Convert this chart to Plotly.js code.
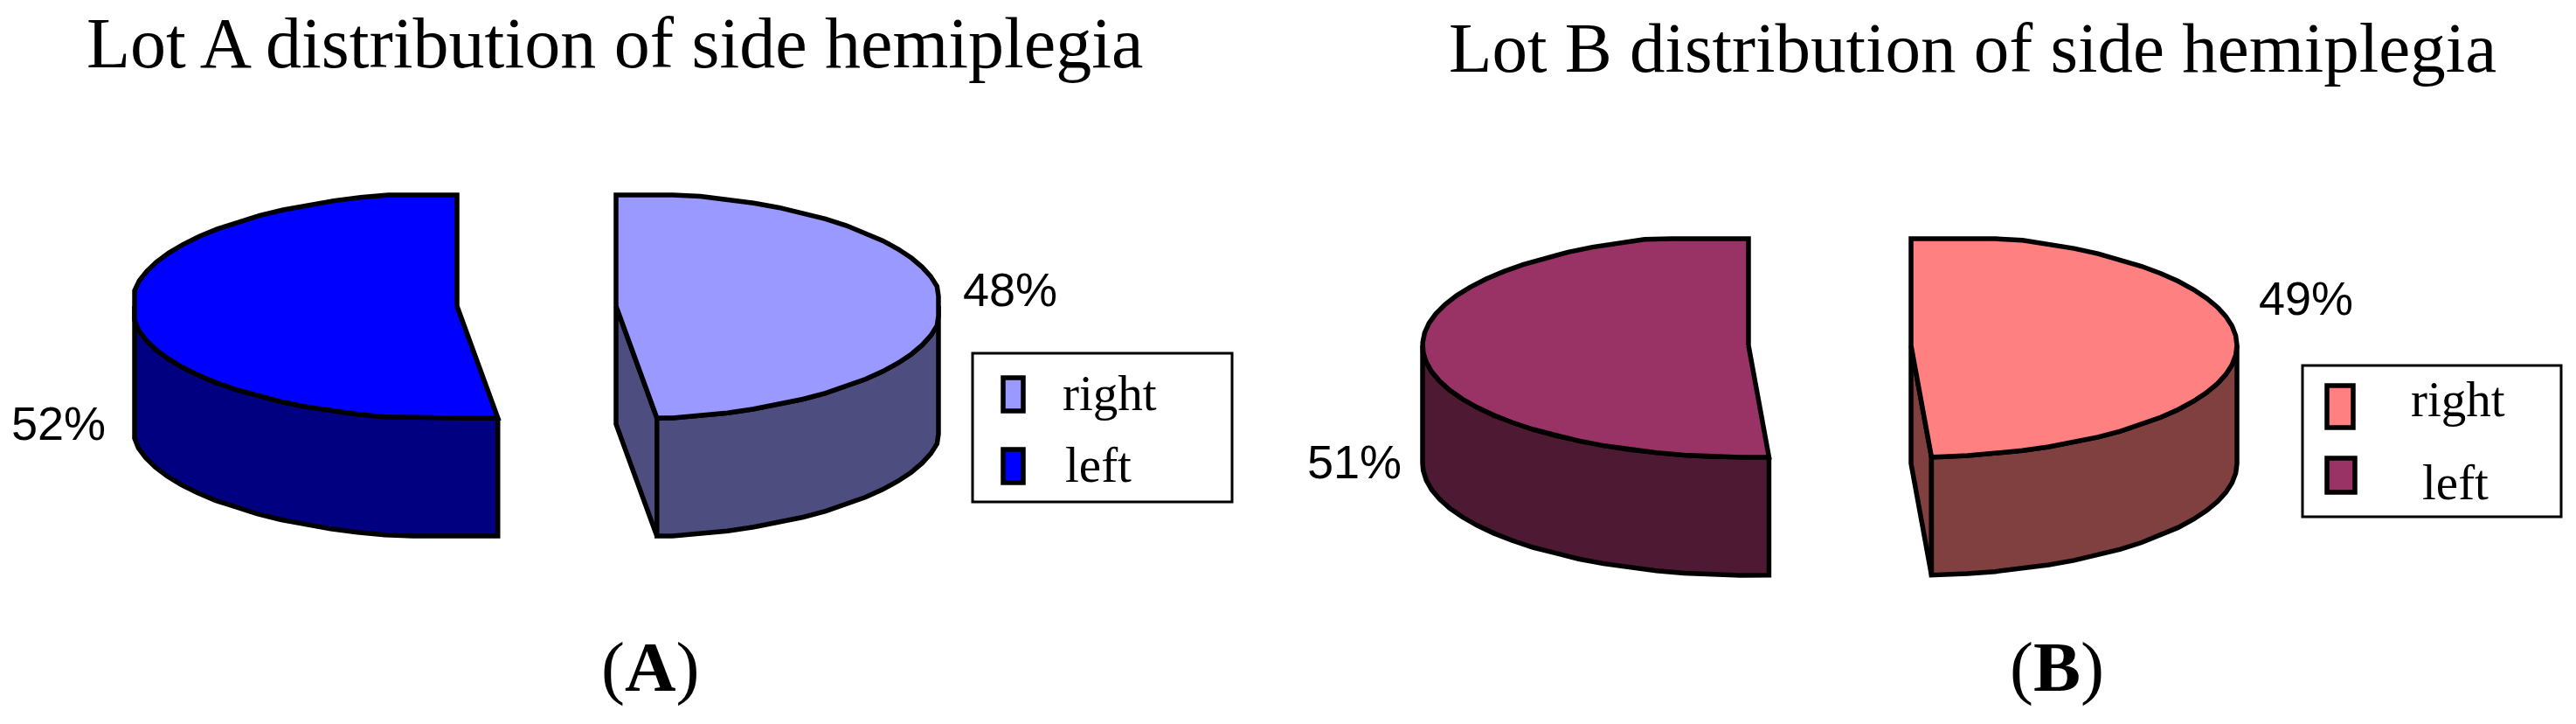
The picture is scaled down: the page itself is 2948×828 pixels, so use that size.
<!DOCTYPE html>
<html>
<head>
<meta charset="utf-8">
<script src="https://cdn.plot.ly/plotly-3.0.1.min.js"></script>
<style>html, body {margin: 0; padding: 0; background: #fff;}</style>
</head>
<body>
<div id="plt" style="width:2948px;height:828px"></div>
<script>
// Data
var categories = ['right', 'left'];
var lotAShares = [48, 52];
var lotBShares = [49, 51];
var lotATitle = 'Lot A distribution of side hemiplegia';
var lotBTitle = 'Lot B distribution of side hemiplegia';

var lotAColors = {right: ['#9999FF', '#4D4D80'], left: ['#0000FF', '#000080']};
var lotBColors = {right: ['#FF8080', '#804040'], left: ['#993366', '#4D1933']};

var EDGE = 5.5;
var SERIF = '"Liberation Serif", serif';
var SANS = '"Liberation Sans", sans-serif';

var traces = [];
var shapes = [];
var annotations = [];

function clamp(v, lo, hi) {
    return Math.max(lo, Math.min(hi, v))
}

// point on the tilted rim, theta in degrees clockwise from 12 o'clock
function rimPoint(g, cx, theta) {
    var t = theta * Math.PI / 180;
    return [
        cx + clamp(g.rx * Math.sin(t), -g.xFlat, g.xFlat),
        g.cy + clamp(-g.ry * Math.cos(t), -g.topFlat, g.bottomFlat)
    ]
}

function rimArc(g, cx, from, to) {
    var pts = [];
    for (var a = from; a < to; a += 5) {
        pts.push(rimPoint(g, cx, a))
    }
    pts.push(rimPoint(g, cx, to));
    return pts
}

function addPolygon(pts, color) {
    var x = pts.map(function (p) { return p[0] });
    var y = pts.map(function (p) { return p[1] });
    x.push(x[0]);
    y.push(y[0]);
    traces.push({
        x: x, y: y, type: 'scatter', mode: 'lines', fill: 'toself', fillcolor: color,
        line: {color: '#000', width: EDGE}, hoverinfo: 'skip', showlegend: false
    })
}

function dropped(pts, depth) {
    return pts.map(function (p) { return [p[0], p[1] + depth] }).reverse()
}

function drawSlice(g, cx, from, to, colors) {
    // cut face, only seen on the slice that opens towards the viewer
    if (from === 0) {
        var apex = [cx, g.cy];
        var tip = rimPoint(g, cx, to);
        addPolygon([apex, tip, [tip[0], tip[1] + g.depth], [apex[0], apex[1] + g.depth]], colors[1])
    }
    // outer wall, front half of the rim
    var wall = rimArc(g, cx, Math.max(from, 90), Math.min(to, 270));
    addPolygon(wall.concat(dropped(wall, g.depth)), colors[1]);
    // top face
    addPolygon([[cx, g.cy]].concat(rimArc(g, cx, from, to)), colors[0])
}

function drawPie(shares, g, colors) {
    var total = shares[0] + shares[1];
    var cut = shares[0] / total * 360;
    drawSlice(g, g.leftCx, cut, 360, colors.left);
    drawSlice(g, g.rightCx, 0, cut, colors.right);
}

function label(text, x, y, size, family, anchor) {
    annotations.push({
        text: text, x: x, y: y, xref: 'x', yref: 'y', showarrow: false,
        xanchor: anchor || 'left', yanchor: 'middle',
        font: {family: family, size: size, color: '#000'}
    })
}

function drawLegend(box, colors) {
    shapes.push({type: 'rect', xref: 'x', yref: 'y', x0: box.x0, x1: box.x1, y0: box.y0, y1: box.y1,
        line: {color: '#000', width: 3}, fillcolor: '#fff'});
    categories.forEach(function (name, i) {
        var s = box.swatches[i];
        shapes.push({type: 'rect', xref: 'x', yref: 'y', x0: s[0], x1: s[1], y0: s[2], y1: s[3],
            line: {color: '#000', width: EDGE}, fillcolor: colors[name][0]});
        label(name, box.textX[i], box.textY[i], 57, SERIF)
    })
}

// Lot A
var pieA = {leftCx: 523, rightCx: 705, cy: 350, rx: 373, ry: 130, xFlat: 369, topFlat: 127, bottomFlat: 128, depth: 135};
drawPie(lotAShares, pieA, lotAColors);
drawLegend({
    x0: 1113, x1: 1410, y0: 404, y1: 574,
    swatches: [[1148, 1171, 432, 470], [1148, 1171, 514, 552]],
    textX: [1214, 1217], textY: [449, 531]
}, lotAColors);
label(lotATitle, 97, 49, 82, SERIF);
label(lotAShares[1] + '%', 11, 484, 54, SANS);
label(lotAShares[0] + '%', 1100, 331, 54, SANS);
label('(<b>A</b>)', 744, 763, 81, SERIF, 'center');

// Lot B
var pieB = {leftCx: 2001, rightCx: 2187, cy: 395, rx: 373, ry: 128, xFlat: 373, topFlat: 122, bottomFlat: 128, depth: 135};
drawPie(lotBShares, pieB, lotBColors);
drawLegend({
    x0: 2635, x1: 2931, y0: 418, y1: 591,
    swatches: [[2663, 2693, 441, 489], [2663, 2695, 524, 563]],
    textX: [2757, 2770], textY: [456, 551]
}, lotBColors);
label(lotBTitle, 1656, 55, 81, SERIF);
label(lotBShares[1] + '%', 1494, 528, 54, SANS);
label(lotBShares[0] + '%', 2583, 341, 54, SANS);
label('(<b>B</b>)', 2354, 763, 81, SERIF, 'center');

var layout = {
    width: 2948,
    height: 828,
    margin: {l: 0, r: 0, t: 0, b: 0},
    paper_bgcolor: '#fff',
    plot_bgcolor: '#fff',
    showlegend: false,
    xaxis: {range: [0, 2948], visible: false, fixedrange: true},
    yaxis: {range: [828, 0], visible: false, fixedrange: true},
    shapes: shapes,
    annotations: annotations
};

Plotly.newPlot('plt', traces, layout, {displayModeBar: false, staticPlot: true});
</script>
</body>
</html>
